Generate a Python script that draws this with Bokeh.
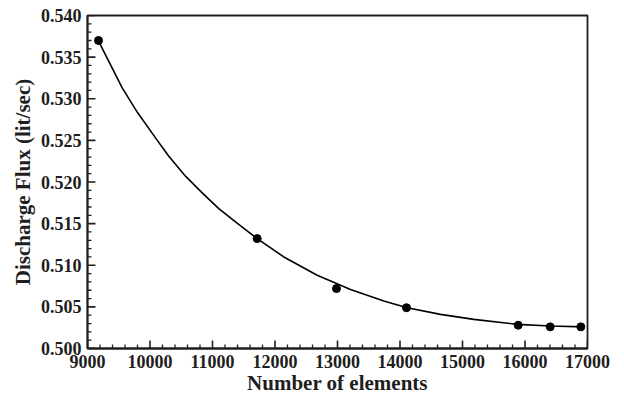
import math
from bokeh.plotting import figure
from bokeh.models import Range1d, PrintfTickFormatter, FixedTicker
from bokeh.embed import file_html
from bokeh.resources import INLINE

# Measured data points
elements = [9176, 11715, 12984, 14104, 15891, 16403, 16893]
flux = [0.5370, 0.5132, 0.5072, 0.5049, 0.5028, 0.5026, 0.5026]

# Fitted curve
curve_x = [9171, 9555, 9795, 10088, 10301, 10568, 10835, 11101, 11368, 11715,
           12141, 12675, 13208, 13741, 14115, 14648, 15181, 15875, 16408, 16941]
curve_y = [0.5370, 0.5313, 0.5284, 0.5253, 0.5231, 0.5207, 0.5187, 0.5168, 0.5152, 0.5132,
           0.5110, 0.5088, 0.5071, 0.5057, 0.5049, 0.5041, 0.5035, 0.5029, 0.5027, 0.5026]

x_ticks = [9000, 10000, 11000, 12000, 13000, 14000, 15000, 16000, 17000]
y_ticks = [0.500, 0.505, 0.510, 0.515, 0.520, 0.525, 0.530, 0.535, 0.540]
x_minor = [t for t in range(9000, 17001, 200) if t % 1000 != 0]
y_minor = [round(0.500 + 0.001 * i, 3) for i in range(41) if i % 5 != 0]

X0, X1 = 9000, 17000
Y0, Y1 = 0.500, 0.540
FONT = "Liberation Serif"
INK = "#1e1e1e"

W, H = 624, 405
BL, BR, BT, BB = 87, 37, 15, 57

p = figure(width=W, height=H, output_backend="svg", toolbar_location=None,
           x_range=Range1d(X0, X1), y_range=Range1d(Y0, Y1),
           min_border_left=BL, min_border_right=BR, min_border_top=BT, min_border_bottom=BB,
           background_fill_color="white", border_fill_color="white")

# inward tick marks as rays with screen-unit lengths
MAJ, MIN = 8, 4
p.ray(x=[X0] * len(y_ticks), y=y_ticks, length=MAJ, length_units="screen", angle=0,
      line_color=INK, line_width=1.6)
p.ray(x=[X0] * len(y_minor), y=y_minor, length=MIN, length_units="screen", angle=0,
      line_color=INK, line_width=1.3)
p.ray(x=x_ticks, y=[Y0] * len(x_ticks), length=MAJ, length_units="screen", angle=math.pi / 2,
      line_color=INK, line_width=1.6)
p.ray(x=x_minor, y=[Y0] * len(x_minor), length=MIN, length_units="screen", angle=math.pi / 2,
      line_color=INK, line_width=1.3)

p.line(curve_x, curve_y, line_color="black", line_width=1.6)
p.scatter(elements, flux, size=8, fill_color="black", line_color="black")

p.grid.visible = False
p.outline_line_color = INK
p.outline_line_width = 1.8

p.xaxis.ticker = FixedTicker(ticks=x_ticks, minor_ticks=x_minor)
p.yaxis.ticker = FixedTicker(ticks=y_ticks, minor_ticks=y_minor)
p.yaxis.formatter = PrintfTickFormatter(format="%.3f")

for ax in (p.xaxis[0], p.yaxis[0]):
    ax.axis_line_color = INK
    ax.axis_line_width = 1.8
    ax.major_tick_in = 0
    ax.major_tick_out = 0
    ax.minor_tick_in = 0
    ax.minor_tick_out = 0
    ax.major_label_text_font = FONT
    ax.major_label_text_font_style = "bold"
    ax.major_label_text_font_size = "18px"
    ax.major_label_text_color = INK
    ax.axis_label_text_font = FONT
    ax.axis_label_text_font_style = "bold"
    ax.axis_label_text_font_size = "21px"
    ax.axis_label_text_color = INK

p.xaxis.axis_label = "Number of elements"
p.yaxis.axis_label = "Discharge Flux (lit/sec)"
p.xaxis.major_label_standoff = 6
p.xaxis.axis_label_standoff = 0
p.yaxis.major_label_standoff = 6
p.yaxis.axis_label_standoff = 3

open("out.html", "w").write(file_html(p, INLINE))
